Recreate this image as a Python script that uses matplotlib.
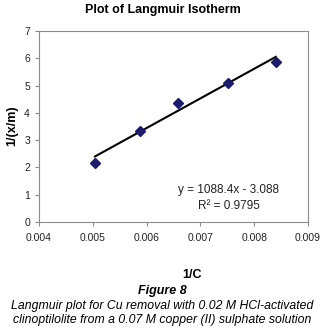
import matplotlib
matplotlib.use('Agg')
from matplotlib import pyplot as plt
import numpy as np

plt.rcParams['font.family'] = ['Liberation Sans', 'DejaVu Sans']

# data
invC = [0.00504, 0.00588, 0.00658, 0.00752, 0.00840]
invXm = [2.17, 3.33, 4.35, 5.11, 5.85]
slope = 1088.4
intercept = -3.088
xticks = [0.004, 0.005, 0.006, 0.007, 0.008, 0.009]
yticks = [0, 1, 2, 3, 4, 5, 6, 7]

fig = plt.figure(figsize=(3.25, 3.31), dpi=100)
ax = fig.add_axes([0.12, 0.33, 0.828, 0.576])

xl = np.array([min(invC), max(invC)])
ax.plot(xl, slope*xl + intercept, color='black', lw=1.5, zorder=2)
ax.plot(invC, invXm, linestyle='none', marker='D', markersize=5.5,
        color='#1c1c6e', zorder=3)

ax.set_xlim(0.004, 0.009)
ax.set_ylim(0, 7)
ax.set_xticks(xticks)
ax.set_xticklabels(['%.3f' % v for v in xticks])
ax.set_yticks(yticks)
for s in ax.spines.values():
    s.set_color('#8c8c8c')
    s.set_linewidth(0.8)
ax.tick_params(labelsize=7.5, colors='#8c8c8c', labelcolor='#222222', length=3, width=0.8)
ax.tick_params(axis='x', pad=5)

ax.text(0.706, 0.166, 'y = 1088.4x - 3.088', transform=ax.transAxes,
        ha='center', va='center', fontsize=8.5, color='#222222')
ax.text(0.706, 0.082, 'R\u00b2 = 0.9795', transform=ax.transAxes,
        ha='center', va='center', fontsize=8.5, color='#222222')

fig.text(0.5, 0.97, 'Plot of Langmuir Isotherm', ha='center', va='center',
         fontsize=9, fontweight='bold')
fig.text(0.037, 0.62, '1/(x/m)', rotation=90, ha='center', va='center',
         fontsize=9, fontweight='bold')
fig.text(0.59, 0.17, '1/C', ha='center', va='center', fontsize=9, fontweight='bold')
fig.text(0.5, 0.122, 'Figure 8', ha='center', va='center', fontsize=9,
         fontweight='bold', style='italic')
fig.text(0.5, 0.077, 'Langmuir plot for Cu removal with 0.02 M HCl-activated',
         ha='center', va='center', fontsize=8.8, style='italic')
fig.text(0.5, 0.034, 'clinoptilolite from a 0.07 M copper (II) sulphate solution',
         ha='center', va='center', fontsize=8.8, style='italic')

fig.savefig('out.png', dpi=100)
